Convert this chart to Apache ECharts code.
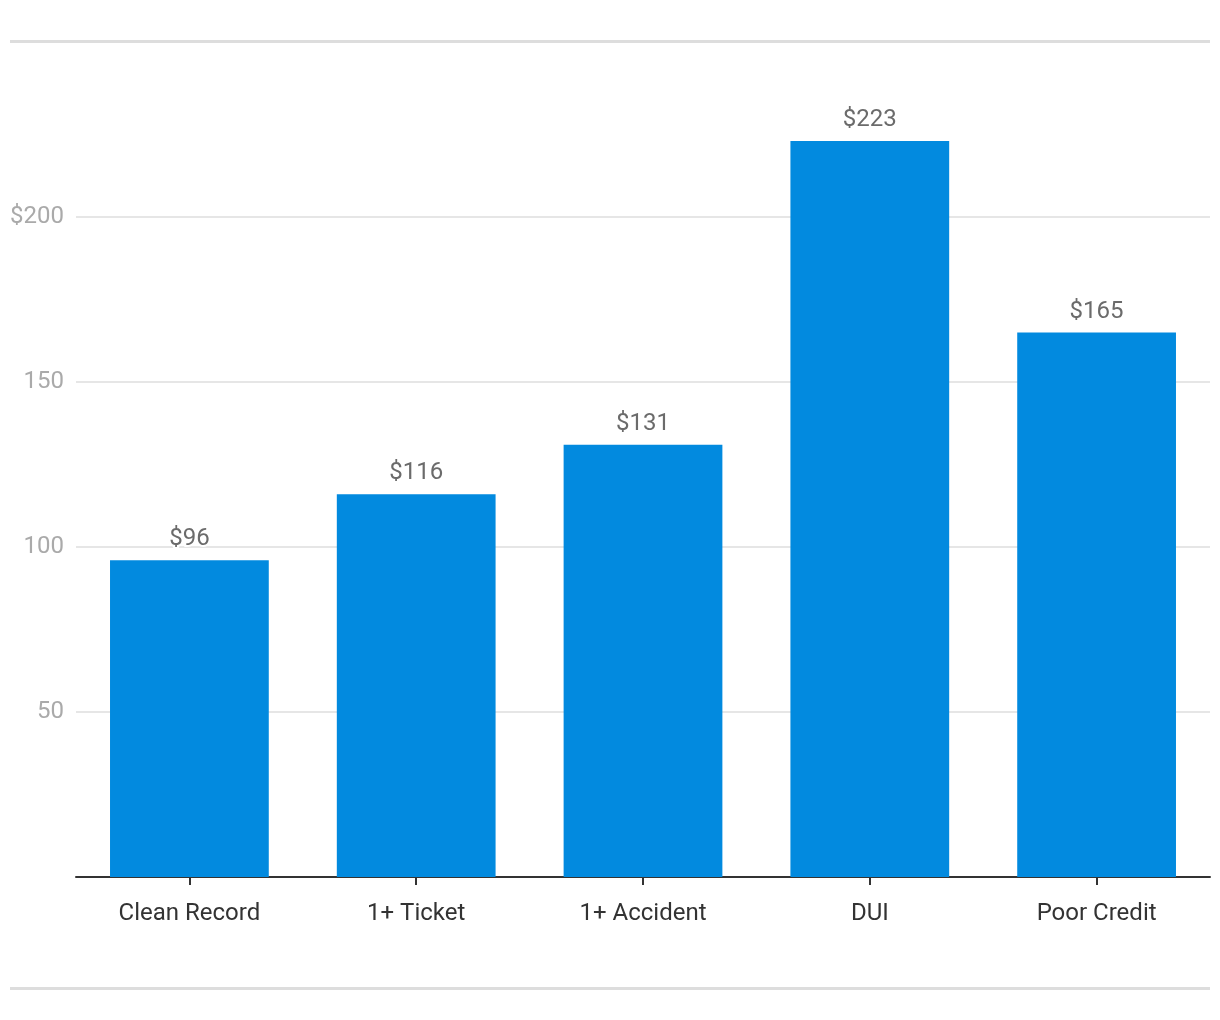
<!DOCTYPE html>
<html><head><meta charset="utf-8">
<script src="https://cdn.jsdelivr.net/npm/echarts@6/dist/echarts.min.js"></script>
<style>html,body{margin:0;padding:0;background:#fff}#c{width:1220px;height:1020px}</style>
</head><body><div id="c"></div>
<script>
const categories = ['Clean Record', '1+ Ticket', '1+ Accident', 'DUI', 'Poor Credit'];
const values = [96, 116, 131, 223, 165];
const yTicks = [0, 50, 100, 150, 200, 250];

const chart = echarts.init(document.getElementById('c'), null, {renderer: 'canvas'});
chart.setOption({
  animation: false,
  backgroundColor: '#fff',
  textStyle: {fontFamily: 'Roboto'},
  graphic: [
    {type: 'rect', shape: {x: 10, y: 40, width: 1200, height: 3}, style: {fill: '#dddddd'}},
    {type: 'rect', shape: {x: 10, y: 987, width: 1200, height: 3}, style: {fill: '#dddddd'}}
  ],
  grid: {left: 76, right: 10, top: 52, bottom: 143, containLabel: false},
  xAxis: {
    type: 'category',
    data: categories,
    axisLine: {lineStyle: {color: '#333', width: 2}},
    axisTick: {show: true, alignWithLabel: true, length: 8, lineStyle: {color: '#333', width: 2}},
    axisLabel: {color: '#333', fontSize: 24, margin: 25, fontFamily: 'Roboto'}
  },
  yAxis: {
    type: 'value',
    min: yTicks[0],
    max: yTicks[yTicks.length - 1],
    interval: 50,
    axisLine: {show: false},
    axisTick: {show: false},
    axisLabel: {
      color: '#aaaaaa', fontSize: 24, margin: 12, fontFamily: 'Roboto',
      showMinLabel: false, showMaxLabel: false,
      padding: [3, 0, 0, 0],
      formatter: v => (v === 200 ? '$' + v : String(v))
    },
    splitLine: {show: true, showMinLine: false, showMaxLine: false, lineStyle: {color: '#e6e6e6', width: 2}}
  },
  series: [{
    type: 'bar',
    data: values,
    barCategoryGap: '30%',
    itemStyle: {color: '#028adf'},
    label: {
      show: true, position: 'top', distance: 9,
      color: '#6b6b6b', fontSize: 24, fontFamily: 'Roboto',
      textBorderColor: '#fff', textBorderWidth: 4,
      formatter: p => '$' + p.value
    }
  }]
});
</script></body></html>
